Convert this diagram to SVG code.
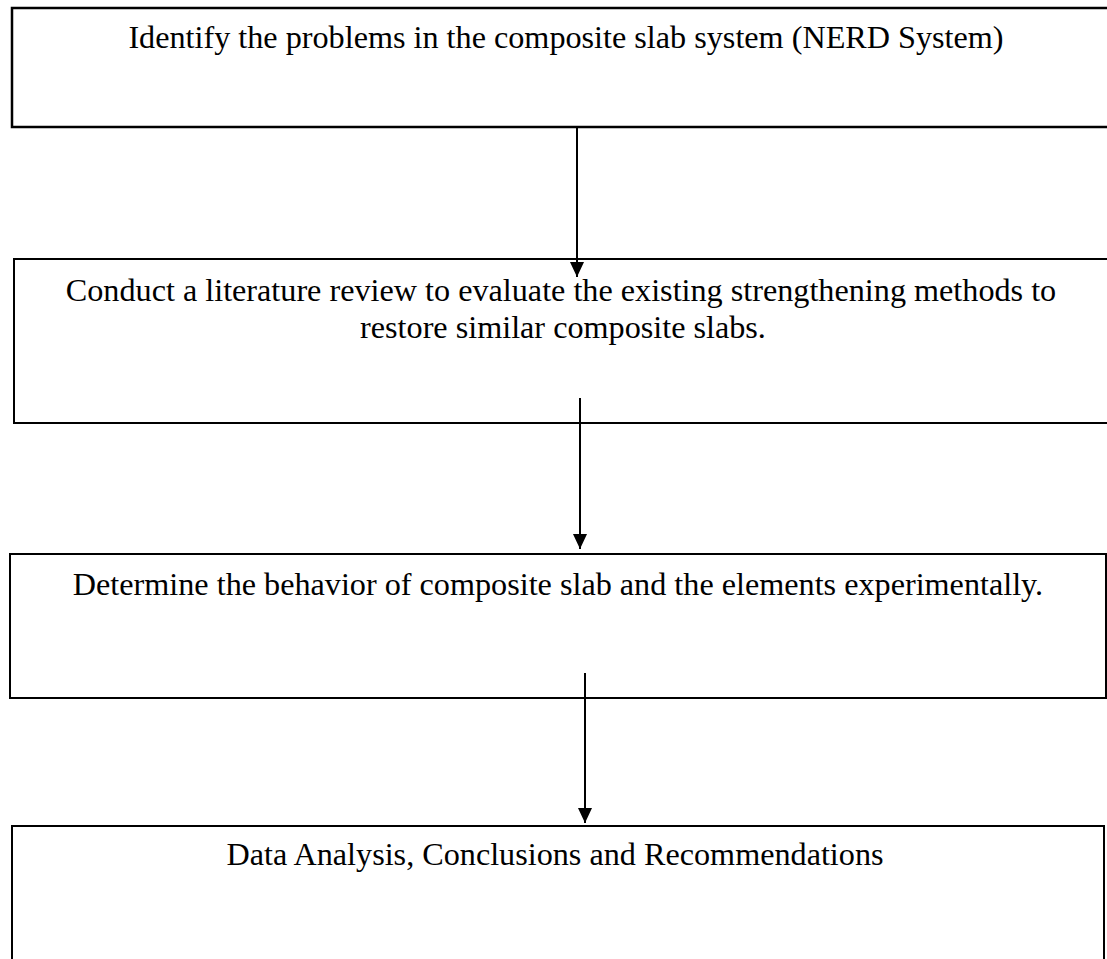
<svg xmlns="http://www.w3.org/2000/svg" width="1107" height="959" viewBox="0 0 1107 959">
<style>
.box{fill:#fff;stroke:#000;stroke-width:2}
.t{font-family:"Liberation Serif","Times New Roman",serif;font-size:32.2px;fill:#000;text-anchor:middle}
.c{stroke:#000;stroke-width:2;fill:none}
</style>
<defs>
<marker id="ah" markerWidth="15" markerHeight="14" refX="15" refY="7" orient="auto" markerUnits="userSpaceOnUse" viewBox="0 0 15 14">
<path d="M0,0 L15,7 L0,14 Z" fill="#000"/>
</marker>
</defs>
<rect width="1107" height="959" fill="#fff"/>
<g id="node1">
<rect class="box" x="12" y="8" width="1110" height="119" style="stroke-width:2.5"/>
<text class="t" x="566" y="48">Identify the problems in the composite slab system (NERD System)</text>
</g>
<g id="node2">
<rect class="box" x="14" y="259" width="1110" height="164"/>
<text class="t" x="561" y="301">Conduct a literature review to evaluate the existing strengthening methods to</text>
<text class="t" x="563" y="338">restore similar composite slabs.</text>
</g>
<g id="node3">
<rect class="box" x="10" y="554" width="1096" height="144"/>
<text class="t" x="558" y="595">Determine the behavior of composite slab and the elements experimentally.</text>
</g>
<g id="node4">
<rect class="box" x="12" y="826" width="1092" height="150"/>
<text class="t" x="555" y="865">Data Analysis, Conclusions and Recommendations</text>
</g>
<g id="connectors">
<line class="c" x1="577" y1="127" x2="577" y2="277" marker-end="url(#ah)"/>
<line class="c" x1="580" y1="398" x2="580" y2="549" marker-end="url(#ah)"/>
<line class="c" x1="585" y1="673" x2="585" y2="823" marker-end="url(#ah)"/>
</g>
</svg>
